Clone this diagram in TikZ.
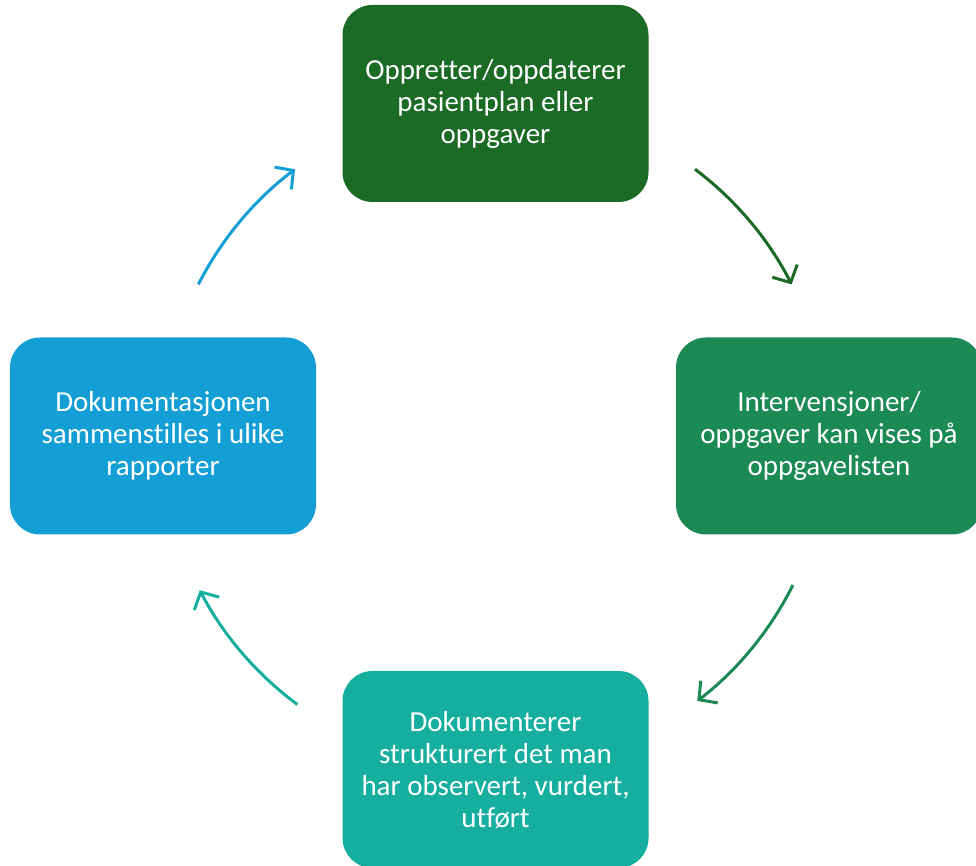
\documentclass[tikz,border=0pt]{standalone}
\usepackage{fontspec}
\setmainfont[Ligatures=NoCommon]{Carlito}
\usetikzlibrary{arrows.meta,calc}

\definecolor{planGreen}{HTML}{1B6A25}
\definecolor{taskGreen}{HTML}{1B8A55}
\definecolor{docTeal}{HTML}{16AE9E}
\definecolor{repBlue}{HTML}{139FD6}

\tikzset{
  stepbox/.style={rounded corners=30pt, minimum width=306pt, minimum height=197pt,
    text=white, align=center, font=\fontsize{29}{32}\selectfont, inner sep=0pt},
  flow/.style={line width=3pt, -{Straight Barb[length=13pt,width=28pt,line width=3pt]}}
}

\begin{document}
\begin{tikzpicture}[x=1pt, y=1pt]

          \clip (0,0) rectangle (976,866);
          \fill[white] (0,0) rectangle (976,866);

          \node[stepbox, fill=planGreen] (plan) at (495.5,762.5) {Oppretter/oppdaterer\\pasientplan eller\\oppgaver};
          \node[stepbox, fill=taskGreen] (task) at (829,430) {Intervensjoner/\\oppgaver kan vises på\\oppgavelisten};
          \node[stepbox, fill=docTeal] (doc) at (495.5,96.5) {Dokumenterer\\strukturert det man\\har observert, vurdert,\\utført};
          \node[stepbox, fill=repBlue] (rep) at (163,430) {Dokumentasjonen\\sammenstilles i ulike\\rapporter};

          % arc ends on a circle round (495,430)
          \coordinate (plantask) at ($(494,430)+(53:334)$);
          \coordinate (taskdoc) at ($(494,430)+(-26.5:334)$);
          \coordinate (docrep) at ($(496,430)+(-126.5:334)$);
          \coordinate (repplan) at ($(496,430)+(153:334)$);

          \draw[flow, planGreen] (plantask) arc[start angle=53, end angle=27, radius=334pt];
          \draw[flow, taskGreen] (taskdoc) arc[start angle=-26.5, end angle=-52.5, radius=334pt];
          \draw[flow, docTeal] (docrep) arc[start angle=-126.5, end angle=-152.5, radius=334pt];
          \draw[flow, repBlue] (repplan) arc[start angle=153, end angle=127, radius=334pt];
        \end{tikzpicture}
\end{document}
